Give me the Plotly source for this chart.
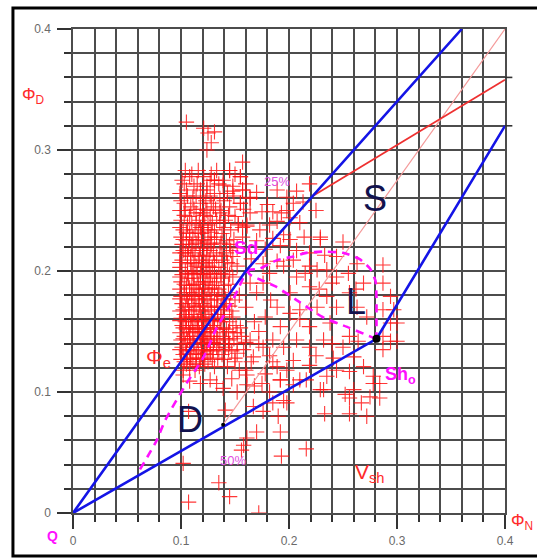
import plotly.graph_objects as go

# ---------------- data ----------------
tick_vals = [0, 0.1, 0.2, 0.3, 0.4]
tick_text = ["0", "0.1", "0.2", "0.3", "0.4"]

# model lines
sand_line_x = [0.0, 0.16, 0.36]
sand_line_y = [0.0, 0.20, 0.40]
shale_line_x = [0.0, 0.281, 0.40]
shale_line_y = [0.0, 0.144, 0.32]
red_line_x = [0.222, 0.40]
red_line_y = [0.262, 0.358]
thin_line_x = [0.139, 0.40]
thin_line_y = [0.073, 0.40]

disp_x = [0.062, 0.0775, 0.085, 0.105, 0.121, 0.133, 0.148, 0.161]
disp_y = [0.036, 0.060, 0.076, 0.107, 0.129, 0.153, 0.176, 0.201]
lam_outer_x = [0.161, 0.173, 0.189, 0.204, 0.216, 0.232, 0.250, 0.265, 0.275, 0.280, 0.281, 0.281, 0.281]
lam_outer_y = [0.201, 0.202, 0.209, 0.212, 0.215, 0.216, 0.215, 0.210, 0.202, 0.192, 0.178, 0.160, 0.144]
lam_inner_x = [0.161, 0.164, 0.173, 0.188, 0.207, 0.231, 0.256, 0.275, 0.281]
lam_inner_y = [0.201, 0.197, 0.193, 0.187, 0.176, 0.162, 0.153, 0.146, 0.144]

sh_point_x = [0.281]
sh_point_y = [0.144]
p50_x = [0.139]
p50_y = [0.073]

# log data: dense core, rows of (phiD, [phiN ...])
core_rows = [
    (0.283, [0.104, 0.116, 0.133, 0.145]),
    (0.278, [0.108, 0.121, 0.155]),
    (0.275, [0.101, 0.127, 0.131, 0.139]),
    (0.270, [0.112, 0.124, 0.148]),
    (0.267, [0.105, 0.118, 0.124, 0.157]),
    (0.264, [0.099, 0.131, 0.143]),
    (0.260, [0.111, 0.121, 0.136, 0.164]),
    (0.256, [0.103, 0.118, 0.128, 0.155]),
    (0.253, [0.109, 0.130, 0.145]),
    (0.250, [0.099, 0.104, 0.124, 0.137]),
    (0.248, [0.114, 0.120, 0.136, 0.164]),
    (0.245, [0.108, 0.127, 0.150]),
    (0.242, [0.100, 0.117, 0.133, 0.141]),
    (0.238, [0.106, 0.121, 0.125, 0.153, 0.161]),
    (0.234, [0.102, 0.113, 0.125, 0.131, 0.146]),
    (0.231, [0.108, 0.119, 0.138]),
    (0.228, [0.100, 0.111, 0.127, 0.133, 0.157]),
    (0.225, [0.105, 0.116, 0.122, 0.142]),
    (0.222, [0.101, 0.110, 0.128, 0.145]),
    (0.219, [0.107, 0.118, 0.124, 0.136, 0.152]),
    (0.215, [0.099, 0.104, 0.113, 0.130, 0.142]),
    (0.212, [0.109, 0.121, 0.133, 0.148]),
    (0.209, [0.101, 0.116, 0.126, 0.138]),
    (0.206, [0.106, 0.112, 0.123, 0.147]),
    (0.203, [0.099, 0.119, 0.129, 0.135]),
    (0.200, [0.104, 0.110, 0.124, 0.141]),
    (0.197, [0.101, 0.115, 0.121, 0.131, 0.145]),
    (0.194, [0.107, 0.112, 0.127, 0.137]),
    (0.191, [0.100, 0.118, 0.123, 0.133]),
    (0.188, [0.105, 0.110, 0.129, 0.140]),
    (0.185, [0.099, 0.114, 0.120, 0.126, 0.135]),
    (0.182, [0.103, 0.108, 0.117, 0.131, 0.146]),
    (0.179, [0.100, 0.112, 0.122, 0.138]),
    (0.176, [0.106, 0.116, 0.127, 0.133, 0.150]),
    (0.173, [0.101, 0.110, 0.120, 0.142]),
    (0.170, [0.104, 0.114, 0.125, 0.131, 0.137]),
    (0.167, [0.099, 0.108, 0.118, 0.128, 0.147]),
    (0.164, [0.103, 0.112, 0.122, 0.134, 0.140]),
    (0.161, [0.100, 0.107, 0.116, 0.126, 0.131]),
    (0.158, [0.104, 0.111, 0.120, 0.137, 0.145]),
    (0.155, [0.101, 0.109, 0.115, 0.124, 0.130, 0.151]),
    (0.152, [0.105, 0.113, 0.119, 0.127, 0.136, 0.142]),
    (0.149, [0.099, 0.108, 0.117, 0.123, 0.133, 0.148]),
    (0.146, [0.103, 0.111, 0.121, 0.128, 0.139, 0.156]),
    (0.143, [0.100, 0.106, 0.115, 0.125, 0.131, 0.144]),
    (0.140, [0.104, 0.109, 0.119, 0.127, 0.136, 0.152]),
    (0.137, [0.101, 0.112, 0.122, 0.133, 0.141]),
    (0.134, [0.105, 0.116, 0.124, 0.130, 0.147]),
    (0.131, [0.102, 0.109, 0.119, 0.127, 0.138]),
    (0.128, [0.106, 0.114, 0.121, 0.134]),
    (0.125, [0.103, 0.111, 0.125]),
    (0.121, [0.108, 0.117, 0.131]),
    (0.118, [0.102, 0.113]),
]
core_rows_2 = [
    (0.280, [0.110, 0.128, 0.150]),
    (0.272, [0.103, 0.115, 0.135, 0.160]),
    (0.262, [0.106, 0.114, 0.127, 0.149]),
    (0.258, [0.100, 0.123, 0.140]),
    (0.251, [0.112, 0.118, 0.132, 0.158]),
    (0.246, [0.103, 0.122, 0.144]),
    (0.240, [0.110, 0.114, 0.129, 0.136]),
    (0.236, [0.099, 0.118, 0.121, 0.140, 0.157]),
    (0.232, [0.105, 0.116, 0.128]),
    (0.226, [0.102, 0.108, 0.119, 0.131, 0.149]),
    (0.223, [0.114, 0.125, 0.137]),
    (0.217, [0.102, 0.111, 0.121, 0.127, 0.146]),
    (0.213, [0.106, 0.117, 0.124, 0.138]),
    (0.207, [0.099, 0.109, 0.119, 0.131, 0.143]),
    (0.204, [0.114, 0.126, 0.152]),
    (0.198, [0.106, 0.111, 0.118, 0.127, 0.137]),
    (0.195, [0.099, 0.121, 0.133, 0.148]),
    (0.189, [0.103, 0.112, 0.116, 0.125, 0.144]),
    (0.186, [0.108, 0.122, 0.131]),
    (0.180, [0.105, 0.110, 0.119, 0.128, 0.134, 0.154]),
    (0.177, [0.099, 0.113, 0.124, 0.141]),
    (0.171, [0.107, 0.117, 0.122, 0.134, 0.145]),
    (0.168, [0.102, 0.112, 0.128, 0.139]),
    (0.162, [0.105, 0.110, 0.119, 0.123, 0.137, 0.148]),
    (0.159, [0.099, 0.115, 0.129, 0.134]),
    (0.153, [0.102, 0.107, 0.116, 0.122, 0.131, 0.139, 0.155]),
    (0.150, [0.111, 0.120, 0.127, 0.144]),
    (0.144, [0.102, 0.108, 0.118, 0.122, 0.134, 0.141, 0.149]),
    (0.141, [0.112, 0.124, 0.130, 0.160]),
    (0.135, [0.099, 0.108, 0.119, 0.127, 0.135, 0.144]),
    (0.132, [0.105, 0.114, 0.122, 0.152]),
    (0.127, [0.100, 0.109, 0.118, 0.129, 0.140]),
    (0.123, [0.105, 0.114, 0.122]),
]

# scattered points outside the core
spread_x = [
    0.105, 0.121, 0.125, 0.124, 0.128, 0.131,
    0.157, 0.145, 0.155, 0.131, 0.139, 0.148, 0.157, 0.164, 0.155, 0.175, 0.185,
    0.189, 0.182, 0.173, 0.161, 0.153, 0.189, 0.198, 0.207, 0.204, 0.213, 0.193,
    0.201, 0.185, 0.192, 0.201, 0.207, 0.219, 0.229, 0.233, 0.235, 0.219, 0.204,
    0.189, 0.176, 0.182, 0.164, 0.176, 0.219,
    0.229, 0.250, 0.244, 0.263, 0.287, 0.287, 0.294, 0.269, 0.244, 0.226, 0.219,
    0.235, 0.207, 0.195, 0.201, 0.189, 0.210, 0.226, 0.244, 0.263, 0.256, 0.272,
    0.287, 0.294, 0.238, 0.256, 0.287, 0.300,
    0.297, 0.300, 0.294, 0.287, 0.264, 0.260, 0.250, 0.241, 0.244, 0.256, 0.269,
    0.278, 0.260, 0.275, 0.256, 0.235, 0.232, 0.219, 0.210, 0.204, 0.192, 0.189,
    0.195, 0.207, 0.219, 0.219, 0.232, 0.210, 0.201, 0.192, 0.185, 0.176, 0.167,
    0.164, 0.158, 0.152, 0.145,
    0.252, 0.267, 0.256, 0.272, 0.284, 0.278, 0.284,
    0.107, 0.102, 0.107, 0.135, 0.145, 0.172, 0.193, 0.216, 0.158, 0.156, 0.161,
    0.170, 0.192, 0.190, 0.176, 0.167, 0.141, 0.233, 0.229, 0.216, 0.195, 0.198,
    0.185, 0.182, 0.175, 0.161, 0.152, 0.139, 0.133, 0.127, 0.118, 0.108, 0.147,
    0.161, 0.192, 0.204, 0.102,
    0.168, 0.172, 0.160, 0.178, 0.183, 0.170, 0.165, 0.150, 0.143, 0.154,
    0.170, 0.178, 0.165, 0.195, 0.210, 0.214, 0.180, 0.170, 0.198, 0.225,
    0.240, 0.255, 0.262, 0.228, 0.215, 0.185, 0.178, 0.198, 0.225, 0.240,
    0.150, 0.160, 0.168, 0.182, 0.172,
]
spread_y = [
    0.323, 0.318, 0.314, 0.300, 0.306, 0.315,
    0.290, 0.283, 0.278, 0.275, 0.271, 0.266, 0.267, 0.261, 0.256, 0.249, 0.249,
    0.241, 0.238, 0.234, 0.237, 0.239, 0.267, 0.261, 0.266, 0.256, 0.257, 0.248,
    0.244, 0.227, 0.221, 0.226, 0.217, 0.215, 0.226, 0.213, 0.201, 0.204, 0.209,
    0.208, 0.206, 0.198, 0.190, 0.190, 0.272,
    0.228, 0.224, 0.212, 0.206, 0.205, 0.190, 0.179, 0.190, 0.195, 0.201, 0.187,
    0.179, 0.195, 0.204, 0.182, 0.170, 0.168, 0.170, 0.170, 0.170, 0.182, 0.162,
    0.168, 0.157, 0.157, 0.146, 0.146, 0.142,
    0.168, 0.157, 0.142, 0.135, 0.142, 0.129, 0.137, 0.128, 0.118, 0.117, 0.121,
    0.113, 0.102, 0.096, 0.095, 0.113, 0.102, 0.122, 0.110, 0.126, 0.110, 0.121,
    0.137, 0.143, 0.137, 0.154, 0.143, 0.160, 0.165, 0.154, 0.143, 0.137, 0.129,
    0.143, 0.135, 0.149, 0.140,
    0.098, 0.091, 0.082, 0.080, 0.095, 0.107, 0.107,
    0.084, 0.041, 0.009, 0.025, 0.0135, 0.0, 0.047, 0.053, 0.056, 0.052, 0.062,
    0.067, 0.067, 0.080, 0.084, 0.088, 0.085, 0.082, 0.102, 0.110, 0.093, 0.091,
    0.091, 0.100, 0.107, 0.106, 0.100, 0.103, 0.107, 0.110, 0.107, 0.109, 0.111,
    0.114, 0.110, 0.106, 0.114,
    0.158, 0.150, 0.170, 0.162, 0.176, 0.182, 0.125, 0.128, 0.121, 0.118,
    0.225, 0.218, 0.210, 0.230, 0.240, 0.228, 0.255, 0.265, 0.250, 0.250,
    0.190, 0.198, 0.185, 0.185, 0.198, 0.125, 0.115, 0.118, 0.130, 0.140,
    0.125, 0.118, 0.105, 0.130, 0.140,
]

# ---------------- build ----------------
pts_x = [x for _, xs in core_rows + core_rows_2 for x in xs] + spread_x
pts_y = [y for y, xs in core_rows + core_rows_2 for _ in xs] + spread_y

FONT = "Arial, Liberation Sans, sans-serif"
BLUE = "#1414e6"
MAG = "#ff10ff"
RED = "#ff2a2a"
NAVY = "#12124e"
GRID = "#4c4c4c"

fig = go.Figure()

fig.add_trace(go.Scatter(
    x=pts_x, y=pts_y, mode="markers",
    marker=dict(symbol="cross-thin", size=11, line=dict(width=1.1, color="rgba(255,20,20,0.85)")),
    hoverinfo="skip", showlegend=False))

fig.add_trace(go.Scatter(x=thin_line_x, y=thin_line_y, mode="lines",
                         line=dict(color="#f49a9a", width=1.2), showlegend=False))
fig.add_trace(go.Scatter(x=red_line_x, y=red_line_y, mode="lines",
                         line=dict(color="#ee3030", width=1.8), showlegend=False))
for lx, ly in [(disp_x, disp_y), (lam_outer_x, lam_outer_y), (lam_inner_x, lam_inner_y)]:
    fig.add_trace(go.Scatter(x=lx, y=ly, mode="lines",
                             line=dict(color=MAG, width=2.6, dash="8px,6px", shape="spline", smoothing=0.6),
                             showlegend=False))
fig.add_trace(go.Scatter(x=sand_line_x, y=sand_line_y, mode="lines",
                         line=dict(color=BLUE, width=2.6), showlegend=False))
fig.add_trace(go.Scatter(x=shale_line_x, y=shale_line_y, mode="lines",
                         line=dict(color=BLUE, width=2.6), showlegend=False))
fig.add_trace(go.Scatter(x=sh_point_x, y=sh_point_y, mode="markers",
                         marker=dict(color="black", size=8), showlegend=False))
fig.add_trace(go.Scatter(x=p50_x, y=p50_y, mode="markers",
                         marker=dict(color="black", size=4), showlegend=False))

axis_common = dict(
    range=[0, 0.4], tickvals=tick_vals, ticktext=tick_text,
    ticks="outside", ticklen=14, tickwidth=1.6, tickcolor="#333",
    showgrid=True, gridcolor=GRID, gridwidth=1.5,
    minor=dict(dtick=0.02, tick0=0, ticks="outside", ticklen=7, tickwidth=1.6,
               tickcolor="#333", showgrid=True, gridcolor=GRID, gridwidth=1.5),
    zeroline=False, showline=True, linecolor=GRID, linewidth=1.5, mirror=True,
    tickfont=dict(family=FONT, size=12, color="#6a6a6a"), fixedrange=True,
    automargin=False,
)
fig.update_layout(
    width=537, height=558, autosize=False,
    margin=dict(l=73, r=32, t=29, b=45, autoexpand=False),
    paper_bgcolor="white", plot_bgcolor="white",
    xaxis=dict(**axis_common, ticklabelstandoff=2),
    yaxis=dict(**axis_common, ticklabelstandoff=4),
    showlegend=False,
)

# frame
fig.add_shape(type="rect", xref="paper", yref="paper", x0=-0.139, x1=1.2, y0=-0.0888, y1=1.0434,
              line=dict(color="black", width=3), layer="above")
# right-side ticks
for yy in [0.36, 0.32]:
    fig.add_shape(type="line", xref="paper", yref="y", x0=1.0, x1=1.017, y0=yy, y1=yy,
                  line=dict(color="#333", width=1.6))

def ann(x, y, text, size, color, xref="x", yref="y", bold=False):
    fig.add_annotation(x=x, y=y, xref=xref, yref=yref, text=(f"<b>{text}</b>" if bold else text),
                       showarrow=False, font=dict(family=FONT, size=size, color=color),
                       xanchor="center", yanchor="middle")

ann(0.2796, 0.2603, "S", 36, NAVY)
ann(0.262, 0.1744, "L", 36, NAVY)
ann(0.1083, 0.0769, "D", 36, NAVY)
ann(0.160, 0.2198, "Sd", 19, MAG, bold=True)
ann(0.1889, 0.2736, "25%", 13, "#e050e0")
ann(0.148, 0.043, "50%", 13, "#e050e0")
ann(0.3028, 0.114, "Sh<sub>o</sub>", 18, MAG, bold=True)
ann(0.0787, 0.128, "Φ<sub>e</sub>", 21, RED)
ann(0.275, 0.033, "V<sub>sh</sub>", 21, RED)
ann(-0.0903, 0.8616, "Φ<sub>D</sub>", 17, RED, xref="paper", yref="paper")
ann(1.039, -0.0186, "Φ<sub>N</sub>", 17, RED, xref="paper", yref="paper")
ann(-0.0463, -0.0475, "Q", 14, MAG, xref="paper", yref="paper", bold=True)

fig.write_html("out.html", config={"displayModeBar": False},
               post_script="document.body.style.margin='0';document.body.style.overflow='hidden';")
